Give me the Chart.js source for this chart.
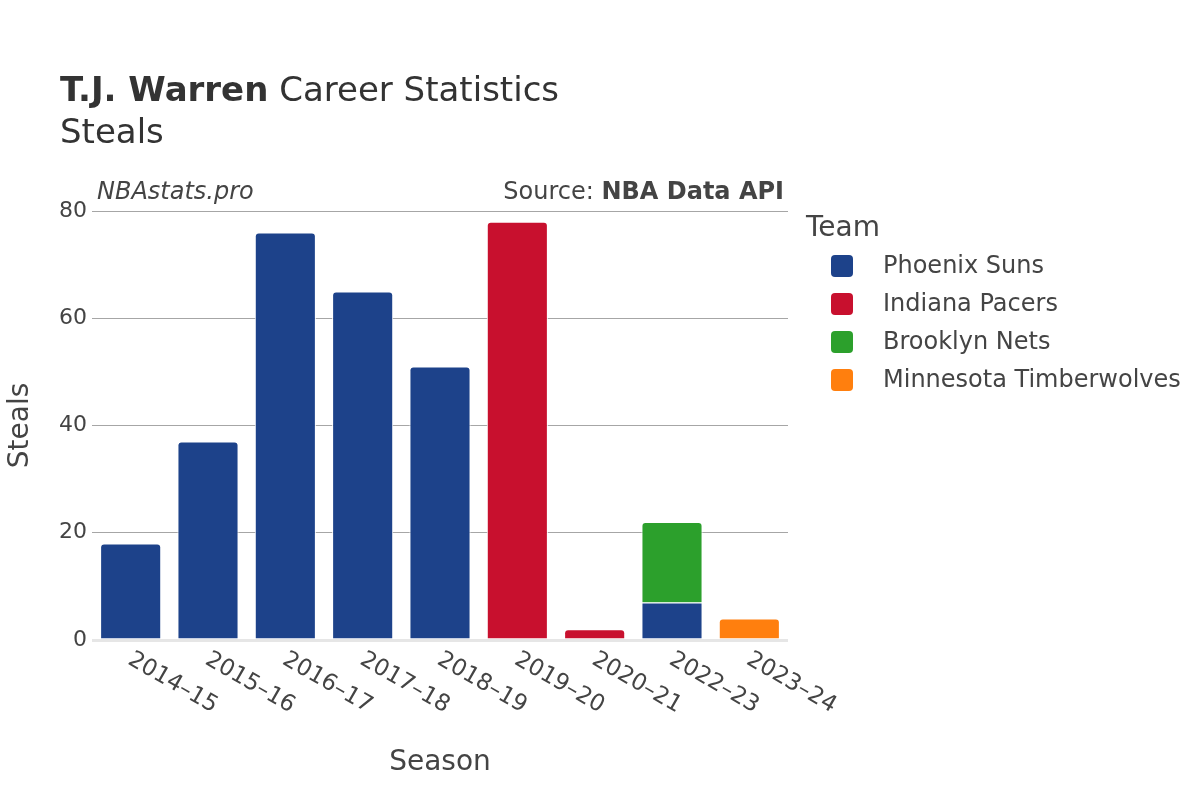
<!DOCTYPE html>
<html>
<head>
<meta charset="utf-8">
<script src="https://cdn.jsdelivr.net/npm/chart.js@4.4.0/dist/chart.umd.min.js"></script>
<style>
  html, body { margin: 0; padding: 0; background: #ffffff; }
  #wrap { width: 1200px; height: 800px; position: relative; }
</style>
</head>
<body>
<div id="wrap"><canvas id="c" width="1200" height="800"></canvas></div>
<script>
const seasons = ["2014\u201315", "2015\u201316", "2016\u201317", "2017\u201318", "2018\u201319", "2019\u201320", "2020\u201321", "2022\u201323", "2023\u201324"];
const teams = ["Phoenix Suns", "Indiana Pacers", "Brooklyn Nets", "Minnesota Timberwolves"];
const teamColors = ["#1d428a", "#c8102e", "#2ca02c", "#ff7f0e"];
const sunsSteals = [18, 37, 76, 65, 51, null, null, 7, null];
const pacersSteals = [null, null, null, null, null, 78, 2, null, null];
const netsSteals = [null, null, null, null, null, null, null, 15, null];
const wolvesSteals = [null, null, null, null, null, null, null, null, 4];
const yTicks = [0, 20, 40, 60, 80];

const FONT = "'DejaVu Sans', 'Noto Sans', sans-serif";
const TEXT = "#444444";

const seriesData = [sunsSteals, pacersSteals, netsSteals, wolvesSteals];
const datasets = teams.map((t, i) => ({
  label: t,
  data: seriesData[i],
  backgroundColor: teamColors[i],
  borderColor: "#ffffff",
  borderWidth: 1,
  borderSkipped: "start",
  borderRadius: 4,
  barPercentage: 0.79,
  categoryPercentage: 1.0
}));

const decor = {
  id: "decor",
  afterDraw(chart) {
    const ctx = chart.ctx;
    const xs = chart.scales.x;
    const ca = chart.chartArea;
    ctx.save();
    // Title
    ctx.fillStyle = "#333333";
    ctx.textBaseline = "alphabetic";
    ctx.textAlign = "left";
    ctx.font = "bold 34px " + FONT;
    const boldPart = "T.J. Warren";
    ctx.fillText(boldPart, 60, 101);
    const bw = ctx.measureText(boldPart).width;
    ctx.font = "34px " + FONT;
    ctx.fillText(" Career Statistics", 60 + bw, 101);
    ctx.fillText("Steals", 60, 143);

    // Watermark & source
    ctx.fillStyle = TEXT;
    ctx.font = "italic 24px " + FONT;
    ctx.fillText("NBAstats.pro", 97, 199);
    ctx.textAlign = "right";
    ctx.font = "bold 24px " + FONT;
    const src = "NBA Data API";
    ctx.fillText(src, 784, 199);
    const sw = ctx.measureText(src).width;
    ctx.font = "24px " + FONT;
    ctx.fillText("Source: ", 784 - sw, 199);

    // X tick labels rotated
    ctx.font = "23px " + FONT;
    ctx.textAlign = "left";
    ctx.textBaseline = "middle";
    seasons.forEach((s, i) => {
      const px = xs.getPixelForValue(i);
      ctx.save();
      ctx.translate(px - 1, ca.bottom + 18);
      ctx.rotate(Math.PI / 6);
      ctx.fillText(s, 0, 0);
      ctx.restore();
    });

    // Axis titles
    ctx.font = "28px " + FONT;
    ctx.textAlign = "center";
    ctx.textBaseline = "alphabetic";
    ctx.fillText("Season", (ca.left + ca.right) / 2, 770);
    ctx.save();
    ctx.translate(28, (ca.top + ca.bottom) / 2);
    ctx.rotate(-Math.PI / 2);
    ctx.fillText("Steals", 0, 0);
    ctx.restore();

    // Legend
    ctx.textAlign = "left";
    ctx.font = "28px " + FONT;
    ctx.fillText("Team", 806, 236);
    ctx.font = "24px " + FONT;
    ctx.textBaseline = "middle";
    teams.forEach((t, i) => {
      const cy = 266 + i * 38;
      ctx.fillStyle = teamColors[i];
      ctx.beginPath();
      ctx.roundRect(831, cy - 11, 22, 22, 4);
      ctx.fill();
      ctx.fillStyle = TEXT;
      ctx.fillText(t, 883, cy + 1);
    });
    ctx.restore();
  }
};

new Chart(document.getElementById("c"), {
  type: "bar",
  data: { labels: seasons, datasets },
  options: {
    responsive: false,
    animation: false,
    devicePixelRatio: 1,
    layout: { padding: { left: 0, top: 211, right: 412, bottom: 0 } },
    plugins: { legend: { display: false }, tooltip: { enabled: false }, title: { display: false } },
    scales: {
      x: {
        stacked: true,
        grid: { display: false, drawTicks: false },
        border: { display: false },
        ticks: { display: false },
        afterFit(s) { s.height = 160; }
      },
      y: {
        stacked: true,
        min: 0,
        max: 80,
        afterBuildTicks(s) { s.ticks = yTicks.map(v => ({ value: v })); },
        afterFit(s) { s.width = 92; },
        border: { display: false },
        grid: {
          drawTicks: false,
          color: (c) => c.tick && c.tick.value === 0 ? "#e6e6e6" : "#a6a6a6",
          lineWidth: (c) => c.tick && c.tick.value === 0 ? 3 : 1
        },
        ticks: {
          padding: 5,
          color: TEXT,
          font: { family: FONT, size: 22 }
        }
      }
    }
  },
  plugins: [decor]
});
</script>
</body>
</html>
